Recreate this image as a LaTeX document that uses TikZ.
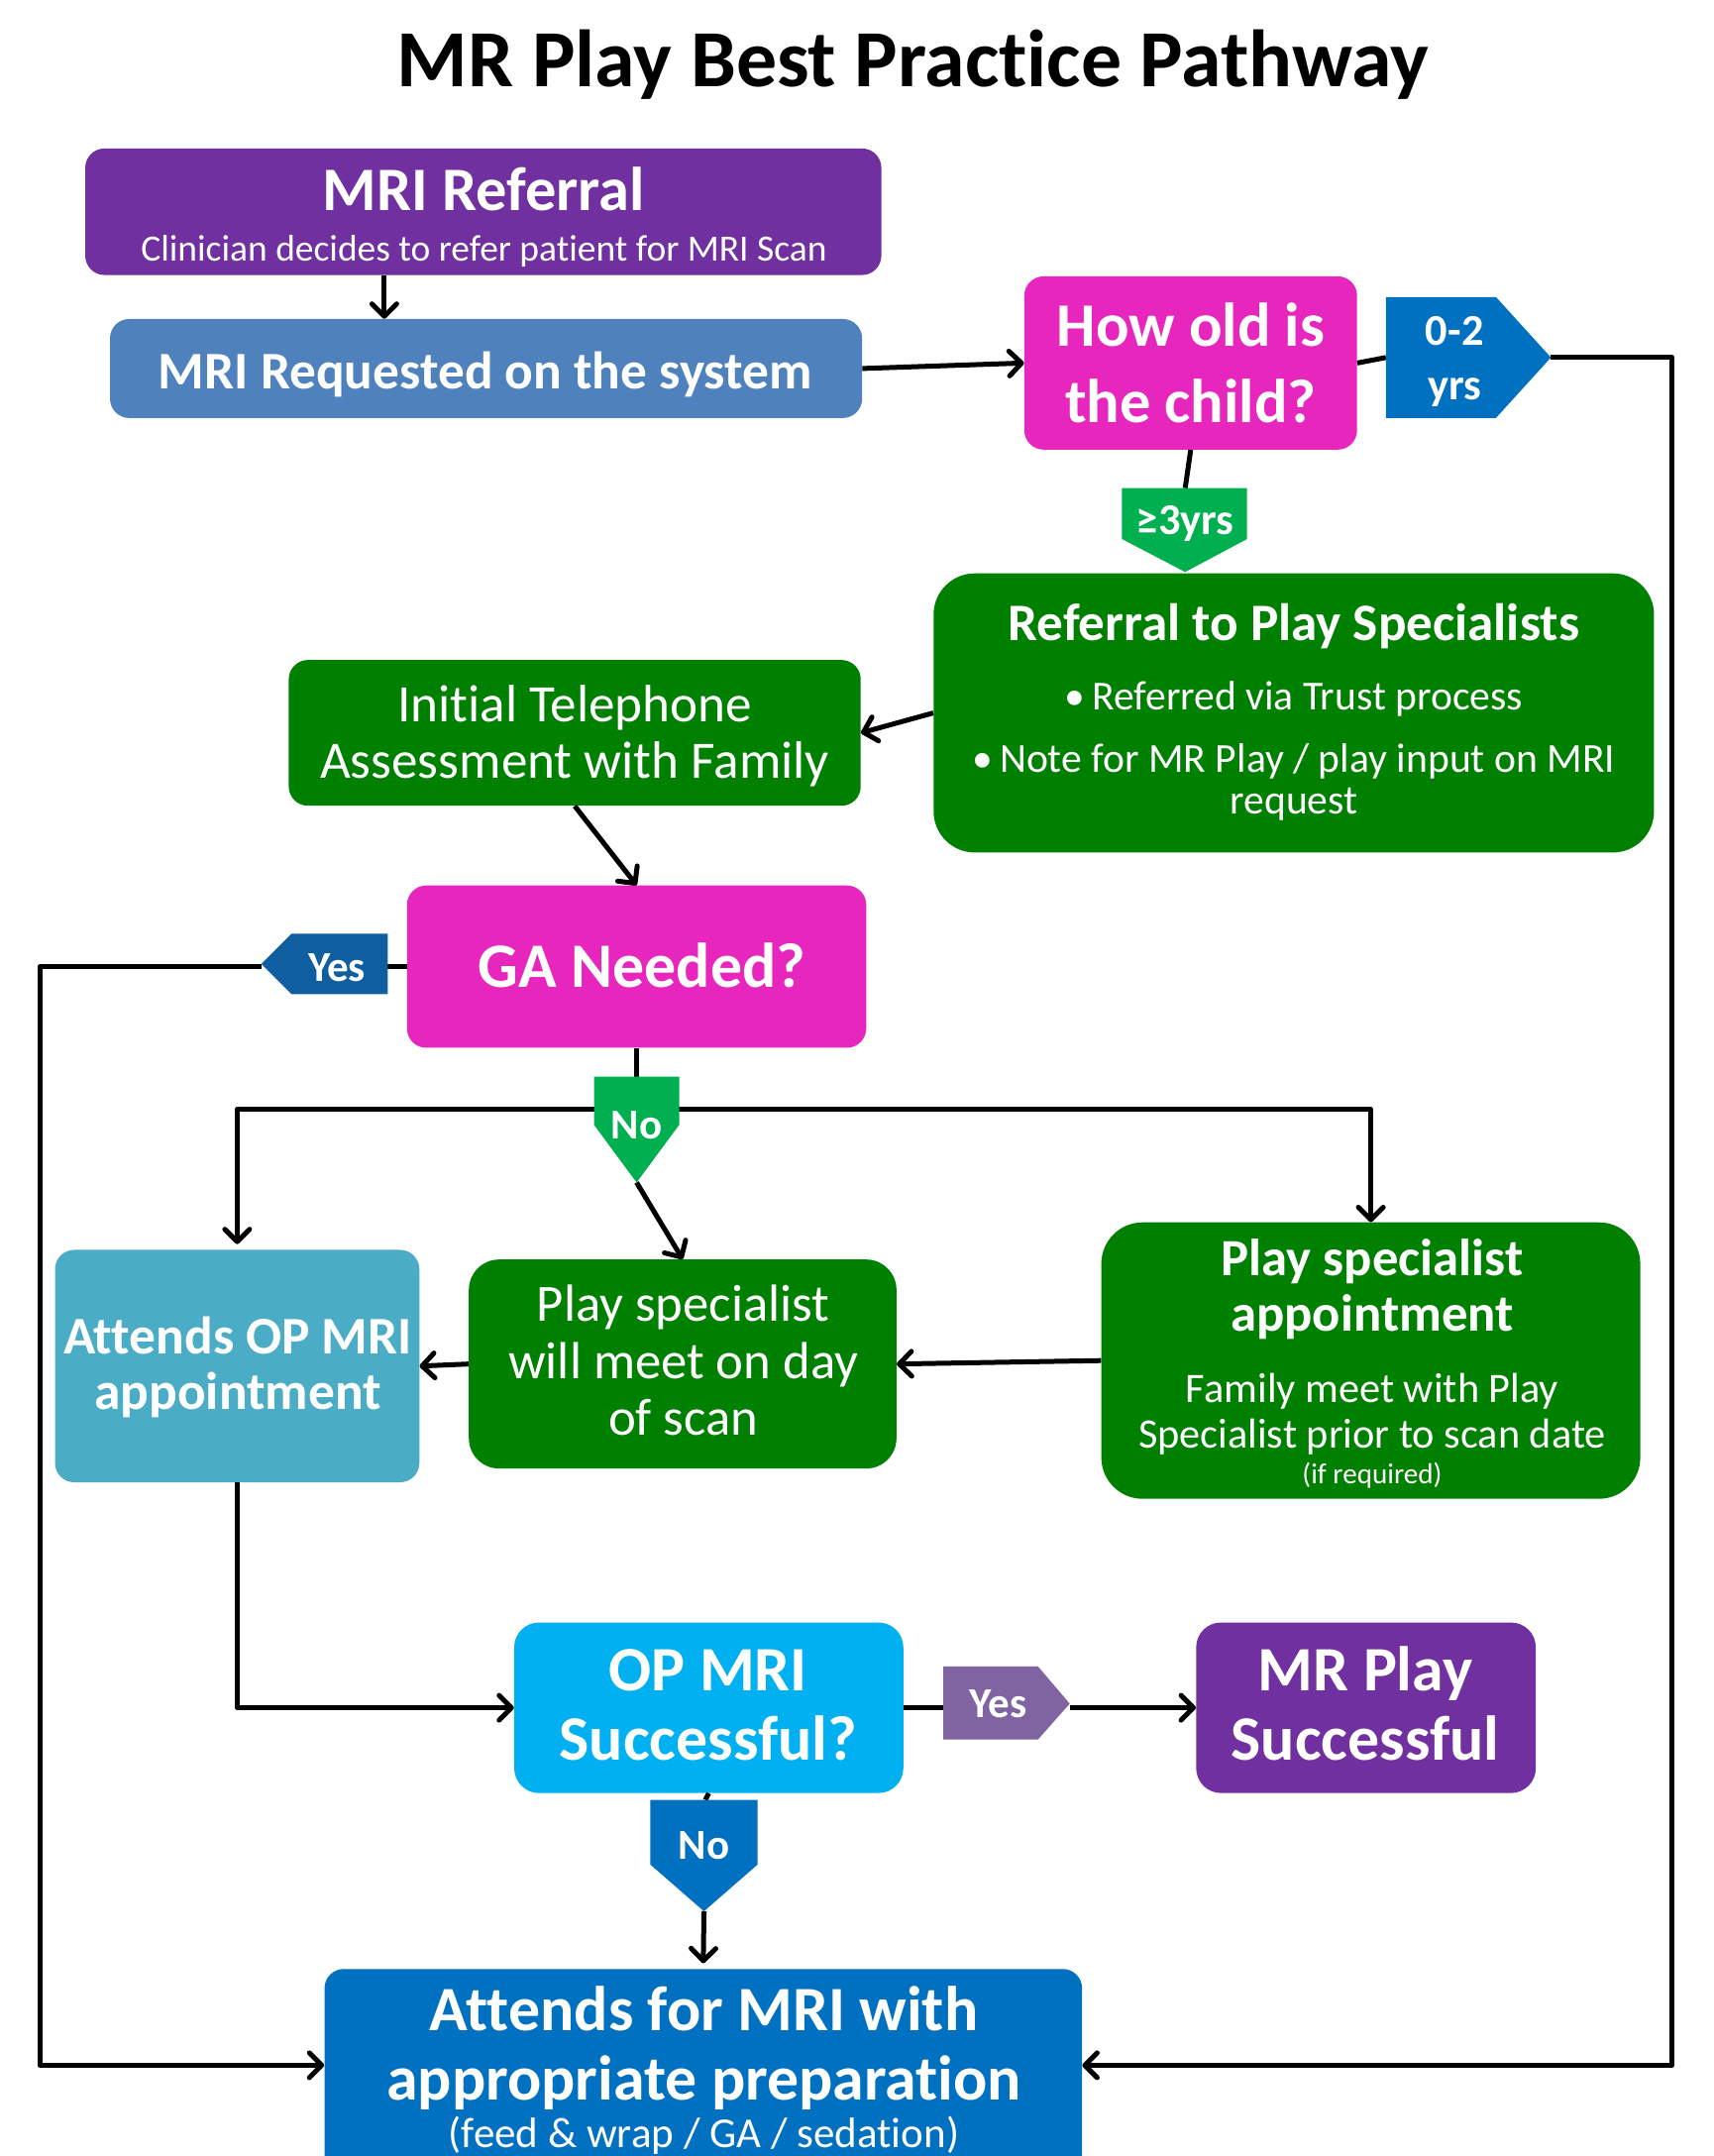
\documentclass[tikz,border=0pt]{standalone}
\usepackage{fontspec}
\setmainfont{Carlito}[Ligatures=NoCommon]
\usetikzlibrary{arrows.meta}
\definecolor{cpurple}{HTML}{7030A0}
\definecolor{csteel}{HTML}{4F81BD}
\definecolor{cmag}{HTML}{E726BE}
\definecolor{cblue}{HTML}{0070C0}
\definecolor{cgreen}{HTML}{008000}
\definecolor{clgreen}{HTML}{00B050}
\definecolor{cteal}{HTML}{4BACC6}
\definecolor{csky}{HTML}{00B0F0}
\definecolor{cdblue}{HTML}{0F5FA0}
\definecolor{clav}{HTML}{8064A2}
\newcommand\myfs[1]{\fontsize{#1}{#1}\selectfont}
\begin{document}
\begin{tikzpicture}[x=1pt,y=-1pt,
  box/.style={rounded corners=14pt, inner sep=0pt, draw=none},
  lbl/.style={text=white, anchor=base, inner sep=0pt},
  conn/.style={line width=3.6pt, draw=black, line join=round},
  arr/.style={conn, -{Straight Barb[length=9pt,width=18pt,round]}},
  tag/.style={draw=none}]
\clip (0,0) rectangle (1246,1568);
\fill[white] (0,0) rectangle (1246,1568);

% title
\node[anchor=base, inner sep=0pt] (title) at (664,63) {\myfs{59}\bfseries MR Play Best Practice Pathway};

% boxes
\node[box, fill=cpurple, minimum width=579pt, minimum height=92pt] (ref) at (351.5,154) {};
\node[box, fill=csteel, minimum width=547pt, minimum height=72pt] (req) at (353.5,268) {};
\node[box, fill=cmag, minimum width=242pt, minimum height=126pt] (howold) at (866,264) {};
\node[box, rounded corners=30pt, fill=cgreen, minimum width=524pt, minimum height=203pt] (refps) at (941,518.5) {};
\node[box, fill=cgreen, minimum width=416pt, minimum height=106pt] (tel) at (418,533) {};
\node[box, fill=cmag, minimum width=334pt, minimum height=118pt] (ga) at (463,703) {};
\node[box, fill=cteal, minimum width=265pt, minimum height=169pt] (attends) at (172.5,993.5) {};
\node[box, rounded corners=22pt, fill=cgreen, minimum width=311pt, minimum height=152pt] (will) at (496.5,992) {};
\node[box, rounded corners=30pt, fill=cgreen, minimum width=392pt, minimum height=201pt] (psa) at (997,989.5) {};
\node[box, rounded corners=18pt, fill=csky, minimum width=283pt, minimum height=124pt] (opmri) at (515.5,1242) {};
\node[box, rounded corners=18pt, fill=cpurple, minimum width=247pt, minimum height=124pt] (mrplay) at (993.5,1242) {};
\node[box, fill=cblue, minimum width=551pt, minimum height=168pt] (final) at (511.5,1516) {};

% connectors
\draw[arr] ([xshift=-72pt]ref.south) -- ([xshift=-74pt]req.north);
\draw[arr] (req.east) -- (howold.west);
\coordinate (t02in) at (1008,260); \coordinate (t02tip) at (1128,260);
\coordinate (t3in) at (862,355);
\coordinate (tyin) at (282,703); \coordinate (tytip) at (190,703);
\coordinate (tnin) at (463,783); \coordinate (tntip) at (463,860); \coordinate (split) at (463,807);
\coordinate (ty2in) at (686,1242); \coordinate (ty2tip) at (778,1242);
\coordinate (tn2in) at (513,1309); \coordinate (tn2tip) at (512,1390);
\draw[conn] (howold.east) -- (t02in);
\draw[arr] (t02tip) -- (1216,260) |- ([yshift=14pt]final.east);
\draw[conn] (howold.south) -- (t3in);
\draw[arr] (refps.west) -- (tel.east);
\draw[arr] (tel.south) -- (ga.north);
\draw[conn] (ga.west) -- (tyin);
\draw[arr] (tytip) -- (29,703) |- ([yshift=14pt]final.west);
\draw[conn] (ga.south) -- (tnin);
\draw[arr] (split) -| ([yshift=4pt]attends.north);
\draw[arr] (split) -| (psa.north);
\draw[arr] (tntip) -- (will.north);
\draw[arr] (will.west) -- (attends.east);
\draw[arr] (psa.west) -- (will.east);
\draw[arr] (attends.south) |- (opmri.west);
\draw[conn] (opmri.east) -- (ty2in);
\draw[arr] (ty2tip) -- (mrplay.west);
\draw[conn] (opmri.south) -- (tn2in);
\draw[arr] (tn2tip) -- ([yshift=4pt]final.north);

% tags
\fill[cblue] (1008,216) -- (1088,216) -- (1128,260) -- (1088,304) -- (1008,304) -- cycle;
\fill[clgreen] (816,355) -- (907,355) -- (907,392) -- (862,416) -- (816,392) -- cycle;
\fill[cdblue] (282,679) -- (282,723) -- (212,723) -- (190,701) -- (212,679) -- cycle;
\fill[clgreen] (432,783) -- (494,783) -- (494,818) -- (463,860) -- (432,818) -- cycle;
\fill[clav] (686,1212) -- (755,1212) -- (778,1239) -- (755,1265) -- (686,1265) -- cycle;
\fill[cblue] (473,1309) -- (551,1309) -- (551,1356) -- (512,1390) -- (473,1356) -- cycle;

% texts
\node[lbl] (t-ref1) at (352,153) {\myfs{45}\bfseries MRI Referral};
\node[lbl] (t-ref2) at (352,190) {\myfs{27}Clinician decides to refer patient for MRI Scan};
\node[lbl] (t-req) at (353,283) {\myfs{38.5}\bfseries MRI Requested on the system};
\node[lbl] (t-how1) at (866,252) {\myfs{45}\bfseries How old is};
\node[lbl] (t-how2) at (866,307) {\myfs{45}\bfseries the child?};
\node[lbl] (t-02a) at (1058,251) {\myfs{32}\bfseries 0-2};
\node[lbl] (t-02b) at (1058,291) {\myfs{32}\bfseries yrs};
\node[lbl] (t-3) at (862,389) {\myfs{32}\bfseries ≥3yrs};
\node[lbl] (t-rps) at (941,466) {\myfs{38.3}\bfseries Referral to Play Specialists};
\node[lbl] (t-rps1) at (941,516) {\myfs{30}•\,Referred via Trust process};
\node[lbl] (t-rps2) at (941,562) {\myfs{30}•\,Note for MR Play / play input on MRI};
\node[lbl] (t-rps3) at (941,592) {\myfs{30}request};
\node[lbl] (t-tel1) at (418,525) {\myfs{38.3}Initial Telephone};
\node[lbl] (t-tel2) at (418,566) {\myfs{38.3}Assessment with Family};
\node[lbl] (t-ga) at (467,718) {\myfs{46}\bfseries GA Needed?};
\node[lbl] (t-yes) at (245,714) {\myfs{31}\bfseries Yes};
\node[lbl] (t-no) at (463,828) {\myfs{31}\bfseries No};
\node[lbl] (t-att1) at (173,985) {\myfs{38.5}\bfseries Attends OP MRI};
\node[lbl] (t-att2) at (173,1025) {\myfs{38.5}\bfseries appointment};
\node[lbl] (t-will1) at (497,961) {\myfs{38}Play specialist};
\node[lbl] (t-will2) at (497,1003) {\myfs{38}will meet on day};
\node[lbl] (t-will3) at (497,1044) {\myfs{38}of scan};
\node[lbl] (t-psa1) at (998,928) {\myfs{38}\bfseries Play specialist};
\node[lbl] (t-psa2) at (998,968) {\myfs{38}\bfseries appointment};
\node[lbl] (t-psa3) at (998,1020) {\myfs{30.5}Family meet with Play};
\node[lbl] (t-psa4) at (998,1053) {\myfs{30.5}Specialist prior to scan date};
\node[lbl] (t-psa5) at (998,1079) {\myfs{21}(if required)};
\node[lbl] (t-op1) at (515,1230) {\myfs{46}\bfseries OP MRI};
\node[lbl] (t-op2) at (515,1280) {\myfs{46}\bfseries Successful?};
\node[lbl] (t-yes2) at (726,1249) {\myfs{31}\bfseries Yes};
\node[lbl] (t-mr1) at (993,1230) {\myfs{46}\bfseries MR Play};
\node[lbl] (t-mr2) at (993,1280) {\myfs{46}\bfseries Successful};
\node[lbl] (t-no2) at (512,1352) {\myfs{31}\bfseries No};
\node[lbl] (t-fin1) at (512,1477) {\myfs{46}\bfseries Attends for MRI with};
\node[lbl] (t-fin2) at (512,1527) {\myfs{46}\bfseries appropriate preparation};
\node[lbl] (t-fin3) at (512,1562) {\myfs{31}(feed \& wrap / GA / sedation)};
\end{tikzpicture}
\end{document}
